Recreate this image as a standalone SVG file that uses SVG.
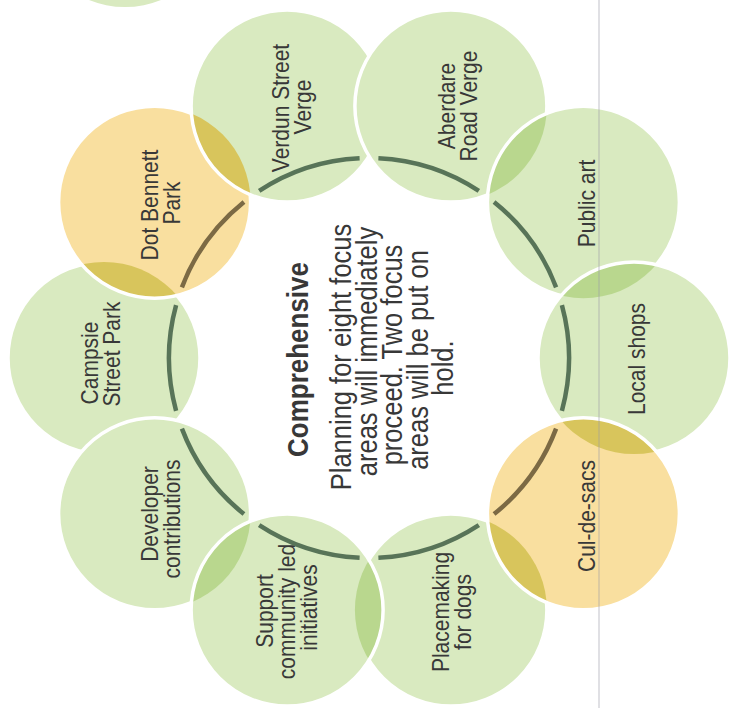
<svg xmlns="http://www.w3.org/2000/svg" xmlns:xlink="http://www.w3.org/1999/xlink" width="733" height="708" viewBox="0 0 733 708">
<style>
.g{fill:#d9eac0}
.o{fill:#f9df9f}
.lg{fill:#b9d78e}
.lo{fill:#d8c55c}
.edge{fill:none;stroke:#ffffff;stroke-width:3.5}
.t{font-family:"Liberation Sans",Arial,sans-serif;font-size:21px;fill:#383838;text-anchor:middle}
.ct{font-family:"Liberation Sans",Arial,sans-serif;font-size:25.5px;fill:#383838;text-anchor:middle}
.cb{font-weight:bold;font-size:26px}
.arc{fill:none;stroke-width:4.5}
.ag{stroke:#587458}
.ao{stroke:#7c6a44}
</style>
<defs>
<clipPath id="cp-campsie"><circle cx="104" cy="358" r="96"/></clipPath>
<clipPath id="cp-developer"><circle cx="154.6" cy="513.8" r="96"/></clipPath>
<clipPath id="cp-placemaking"><circle cx="450.9" cy="610" r="96"/></clipPath>
<clipPath id="cp-dot"><circle cx="154.6" cy="202.2" r="96"/></clipPath>
<clipPath id="cp-aberdare"><circle cx="450.9" cy="106" r="96"/></clipPath>
<clipPath id="cp-public"><circle cx="583.4" cy="202.2" r="96"/></clipPath>
<clipPath id="cp-local"><circle cx="634" cy="358" r="96"/></clipPath>
<path id="arc0" d="M561.9,305.2 A200,200 0 0 1 561.9,410.8"/>
</defs>
<circle cx="125" cy="-89" r="96" class="g"/>
<g id="node-campsie">
<circle cx="104" cy="358" r="96" class="g"/>
<circle cx="104" cy="358" r="96" class="edge"/>
<text class="t" transform="translate(98,363) rotate(-90) scale(1,1.17)">Campsie</text>
<text class="t" transform="translate(120,354) rotate(-90) scale(1,1.17)">Street Park</text>
</g>
<g id="node-developer">
<circle cx="154.6" cy="513.8" r="96" class="g"/>
<circle cx="154.6" cy="513.8" r="96" class="edge"/>
<text class="t" transform="translate(158,514) rotate(-90) scale(1,1.17)">Developer</text>
<text class="t" transform="translate(180,519) rotate(-90) scale(1,1.17)">contributions</text>
</g>
<g id="node-placemaking">
<circle cx="450.9" cy="610" r="96" class="g"/>
<circle cx="450.9" cy="610" r="96" class="edge"/>
<text class="t" transform="translate(449,612) rotate(-90) scale(1,1.17)">Placemaking</text>
<text class="t" transform="translate(471,612) rotate(-90) scale(1,1.17)">for dogs</text>
</g>
<g id="node-support">
<circle cx="287.1" cy="610" r="96" class="g"/>
<circle cx="287.1" cy="610" r="96" class="lg" clip-path="url(#cp-developer)"/>
<circle cx="287.1" cy="610" r="96" class="lg" clip-path="url(#cp-placemaking)"/>
<circle cx="287.1" cy="610" r="96" class="edge"/>
<text class="t" transform="translate(273,611) rotate(-90) scale(1,1.17)">Support</text>
<text class="t" transform="translate(295,611.5) rotate(-90) scale(1,1.17)">community led</text>
<text class="t" transform="translate(317,607.5) rotate(-90) scale(1,1.17)">initiatives</text>
</g>
<g id="node-dot">
<circle cx="154.6" cy="202.2" r="96" class="o"/>
<circle cx="154.6" cy="202.2" r="96" class="lo" clip-path="url(#cp-campsie)"/>
<circle cx="154.6" cy="202.2" r="96" class="edge"/>
<text class="t" transform="translate(158,205) rotate(-90) scale(1,1.17)">Dot Bennett</text>
<text class="t" transform="translate(180,203) rotate(-90) scale(1,1.17)">Park</text>
</g>
<g id="node-verdun">
<circle cx="287.1" cy="106" r="96" class="g"/>
<circle cx="287.1" cy="106" r="96" class="lo" clip-path="url(#cp-dot)"/>
<circle cx="287.1" cy="106" r="96" class="edge"/>
<text class="t" transform="translate(289,108) rotate(-90) scale(1,1.17)">Verdun Street</text>
<text class="t" transform="translate(311,107) rotate(-90) scale(1,1.17)">Verge</text>
</g>
<g id="node-aberdare">
<circle cx="450.9" cy="106" r="96" class="g"/>
<circle cx="450.9" cy="106" r="96" class="edge"/>
<text class="t" transform="translate(455,106) rotate(-90) scale(1,1.17)">Aberdare</text>
<text class="t" transform="translate(477,106) rotate(-90) scale(1,1.17)">Road Verge</text>
</g>
<g id="node-public">
<circle cx="583.4" cy="202.2" r="96" class="g"/>
<circle cx="583.4" cy="202.2" r="96" class="lg" clip-path="url(#cp-aberdare)"/>
<circle cx="583.4" cy="202.2" r="96" class="edge"/>
<text class="t" transform="translate(595,203.5) rotate(-90) scale(1,1.17)">Public art</text>
</g>
<g id="node-local">
<circle cx="634" cy="358" r="96" class="g"/>
<circle cx="634" cy="358" r="96" class="lg" clip-path="url(#cp-public)"/>
<circle cx="634" cy="358" r="96" class="edge"/>
<text class="t" transform="translate(645,359) rotate(-90) scale(1,1.17)">Local shops</text>
</g>
<g id="node-culdesacs">
<circle cx="583.4" cy="513.8" r="96" class="o"/>
<circle cx="583.4" cy="513.8" r="96" class="lo" clip-path="url(#cp-local)"/>
<circle cx="583.4" cy="513.8" r="96" class="lo" clip-path="url(#cp-placemaking)"/>
<circle cx="583.4" cy="513.8" r="96" class="edge"/>
<text class="t" transform="translate(595,516) rotate(-90) scale(1,1.17)">Cul-de-sacs</text>
</g>
<g id="connectors">
<use xlink:href="#arc0" class="arc ag" transform="rotate(-108 369 358)"/>
<use xlink:href="#arc0" class="arc ag" transform="rotate(-72 369 358)"/>
<use xlink:href="#arc0" class="arc ag" transform="rotate(-36 369 358)"/>
<use xlink:href="#arc0" class="arc ag"/>
<use xlink:href="#arc0" class="arc ao" transform="rotate(36 369 358)"/>
<use xlink:href="#arc0" class="arc ag" transform="rotate(72 369 358)"/>
<use xlink:href="#arc0" class="arc ag" transform="rotate(108 369 358)"/>
<use xlink:href="#arc0" class="arc ag" transform="rotate(144 369 358)"/>
<use xlink:href="#arc0" class="arc ag" transform="rotate(180 369 358)"/>
<use xlink:href="#arc0" class="arc ao" transform="rotate(-144 369 358)"/>
</g>
<g id="node-center">
<text class="ct cb" transform="translate(308,359.5) rotate(-90) scale(1,1.17)">Comprehensive</text>
<text class="ct" transform="translate(351,357) rotate(-90) scale(1,1.17)">Planning for eight focus</text>
<text class="ct" transform="translate(376.5,351.5) rotate(-90) scale(1,1.17)">areas will immediately</text>
<text class="ct" transform="translate(402,355) rotate(-90) scale(1,1.17)">proceed. Two focus</text>
<text class="ct" transform="translate(427.5,360) rotate(-90) scale(1,1.17)">areas will be put on</text>
<text class="ct" transform="translate(453,368) rotate(-90) scale(1,1.17)">hold.</text>
</g>
<line x1="599" y1="0" x2="599" y2="708" stroke="#9a9aa8" stroke-width="1.5" opacity="0.4"/>
</svg>
